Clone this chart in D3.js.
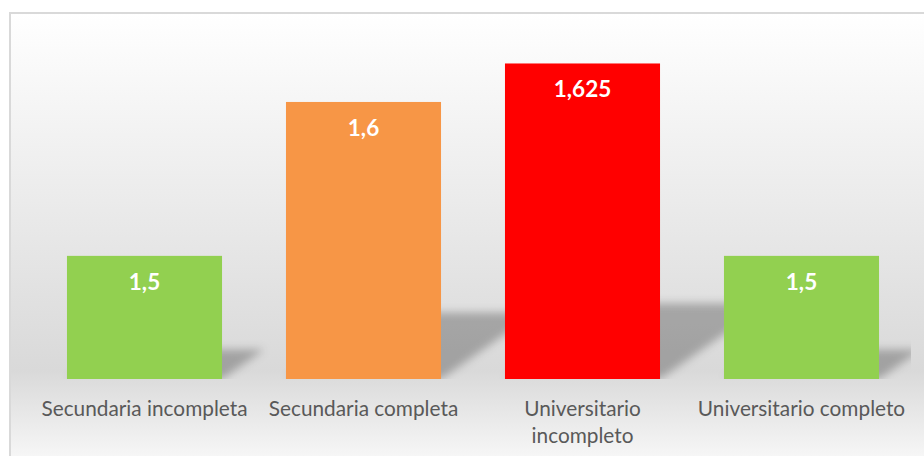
<!DOCTYPE html>
<html>
<head>
<meta charset="utf-8">
<script src="https://cdn.jsdelivr.net/npm/d3@7"></script>
<style>
  body { margin: 0; background: #fff; }
  svg { display: block; }
</style>
</head>
<body>
<div id="chart"></div>
<script>
const categories = ["Secundaria incompleta", "Secundaria completa", "Universitario incompleto", "Universitario completo"];
const values = [1.5, 1.6, 1.625, 1.5];
const valueLabels = ["1,5", "1,6", "1,625", "1,5"];
const barColors = ["#92d050", "#f79646", "#ff0000", "#92d050"];

const width = 924;
const height = 456;
const margin = { top: 25, right: 13, bottom: 77, left: 35 };
const plotW = width - margin.left - margin.right;
const plotH = height - margin.top - margin.bottom;

const svg = d3.select("#chart").append("svg")
    .attr("width", width)
    .attr("height", height);

const defs = svg.append("defs");
const grad = defs.append("linearGradient")
    .attr("id", "bg").attr("x1", 0).attr("y1", 0).attr("x2", 0).attr("y2", 1);
grad.append("stop").attr("offset", "0%").attr("stop-color", "#ffffff");
grad.append("stop").attr("offset", "76%").attr("stop-color", "#d9d9d9");
grad.append("stop").attr("offset", "100%").attr("stop-color", "#ffffff");

const blur = defs.append("filter").attr("id", "blur")
    .attr("x", "-30%").attr("y", "-30%").attr("width", "160%").attr("height", "160%");
blur.append("feGaussianBlur").attr("stdDeviation", 4);

defs.append("clipPath").attr("id", "plotClip")
  .append("rect").attr("x", 0).attr("y", -margin.top).attr("width", plotW).attr("height", plotH + margin.top);

// chart area (right and bottom edges run past the window)
svg.append("rect")
    .attr("x", 10).attr("y", 13)
    .attr("width", 940).attr("height", 470)
    .attr("fill", "url(#bg)")
    .attr("stroke", "#d9d9d9")
    .attr("stroke-width", 2);

const g = svg.append("g").attr("transform", `translate(${margin.left},${margin.top})`);

const x = d3.scaleBand().domain(categories).range([0, plotW]).paddingInner(0.292).paddingOuter(0.146);
const y = d3.scaleLinear().domain([1.42, 1.65]).range([plotH, 0]);

// perspective shadows
const shadowG = g.append("g").attr("clip-path", "url(#plotClip)");
shadowG.selectAll("path").data(values).enter().append("path")
    .attr("filter", "url(#blur)")
    .attr("fill", "#000")
    .attr("fill-opacity", 0.26)
    .attr("d", (d, i) => {
        const x0 = x(categories[i]), x1 = x0 + x.bandwidth();
        const yb = y.range()[0];
        const h = (yb - y(d)) * 0.24;
        const dx = h * 1.43;
        return `M${x0},${yb}L${x1},${yb}L${x1 + dx},${yb - h}L${x0 + dx},${yb - h}Z`;
    });

g.selectAll("rect.bar").data(values).enter().append("rect")
    .attr("class", "bar")
    .attr("x", (d, i) => x(categories[i]))
    .attr("y", d => y(d))
    .attr("width", x.bandwidth())
    .attr("height", d => y.range()[0] - y(d))
    .attr("fill", (d, i) => barColors[i]);

g.selectAll("text.val").data(values).enter().append("text")
    .attr("class", "val")
    .attr("x", (d, i) => x(categories[i]) + x.bandwidth() / 2)
    .attr("y", d => y(d) + 34)
    .attr("text-anchor", "middle")
    .attr("fill", "#fff")
    .attr("font-family", "Lato, sans-serif")
    .attr("font-weight", "bold")
    .attr("font-size", 22.5)
    .text((d, i) => valueLabels[i]);

const xAxis = d3.axisBottom(x).tickSize(0).tickPadding(22);
const xAxisGroup = g.append("g")
    .attr("transform", `translate(0,${plotH})`)
    .call(xAxis);
xAxisGroup.select(".domain").remove();
xAxisGroup.selectAll("text")
    .attr("fill", "#595959")
    .attr("font-family", "Lato, sans-serif")
    .attr("font-size", 20.8)
    .call(wrap, 212);

function wrap(texts, maxW) {
    texts.each(function() {
        const t = d3.select(this);
        const words = t.text().split(" ");
        const yAttr = t.attr("y"), dy = parseFloat(t.attr("dy")) || 0;
        t.text(null);
        let line = [], lineNo = 0;
        let tspan = t.append("tspan").attr("x", 0).attr("y", yAttr).attr("dy", dy + "em");
        words.forEach(w => {
            line.push(w);
            tspan.text(line.join(" "));
            if (tspan.node().getComputedTextLength() > maxW && line.length > 1) {
                line.pop();
                tspan.text(line.join(" "));
                line = [w];
                lineNo++;
                tspan = t.append("tspan").attr("x", 0).attr("y", yAttr)
                    .attr("dy", (dy + lineNo * 1.3) + "em").text(w);
            }
        });
    });
}
</script>
</body>
</html>
